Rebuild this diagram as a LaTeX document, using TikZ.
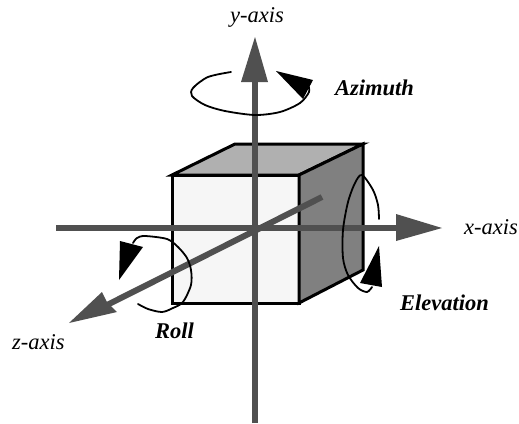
\documentclass[tikz,border=0pt]{standalone}
\usepackage{fontspec}
\setmainfont{Liberation Serif}
\usepackage{xcolor}
\usepackage{tikz}
\usetikzlibrary{arrows.meta,calc}
\definecolor{axisgray}{HTML}{505050}
\definecolor{topgray}{HTML}{B0B0B0}
\definecolor{sidegray}{HTML}{808080}
\definecolor{frontgray}{HTML}{F6F6F6}

\begin{document}
\begin{tikzpicture}[
x=1pt, y=-1pt,
face/.style={draw=black, line width=3pt, line join=miter},
axisline/.style={draw=axisgray, line width=6pt},
axishead/.style={fill=axisgray, draw=none},
turn/.style={draw=black, line width=1.8pt, line join=round, line cap=round},
turnhead/.style={fill=black, draw=none},
axislabel/.style={font=\fontsize{22.5}{26}\selectfont\itshape, inner sep=0pt},
turnlabel/.style={font=\fontsize{22.5}{26}\selectfont\bfseries\itshape, inner sep=0pt}
]
\useasboundingbox (0,0) rectangle (519,423);
% cube
\coordinate (fronttl) at (172,175);
\coordinate (fronttr) at (299,175);
\coordinate (frontbr) at (299,303);
\coordinate (frontbl) at (172,303);
\coordinate (backtl) at (235,144);
\coordinate (backtr) at (363,144);
\coordinate (backbr) at (363,270);
\draw[face, fill=frontgray] (fronttl) -- (fronttr) -- (frontbr) -- (frontbl) -- cycle;
\draw[face, fill=topgray] (fronttl) -- (backtl) -- (backtr) -- (fronttr) -- cycle;
\draw[face, fill=sidegray] (fronttr) -- (backtr) -- (backbr) -- (frontbr) -- cycle;
% axes
\coordinate (xstart) at (56,228);
\coordinate (xbase) at (397,228);
\coordinate (ystart) at (255,423);
\coordinate (ybase) at (255,81);
\coordinate (zstart) at (322,197);
\coordinate (zbase) at (107,305);
\draw[axisline] (xstart) -- (xbase);
\draw[axisline] (ystart) -- (ybase);
\draw[axisline] (zstart) -- (zbase);
\fill[axishead] (442,228) -- (396,214) -- (396,241) -- cycle;
\fill[axishead] (255,37) -- (241,82) -- (268,82) -- cycle;
\fill[axishead] (69,323) -- (117,312) -- (107,302) -- (102,292) -- cycle;
% rotations
\draw[turn] plot[smooth, tension=0.5] coordinates {(231,72) (208,77) (193,88) (192,96) (205,105) (225,111) (255,115) (280,112) (300,103) (309,92) (308,85)};
\fill[turnhead] (276,71) -- (313,80) -- (303,99) -- cycle;
\draw[turn] plot[smooth, tension=0.5] coordinates {(133,243) (137,238) (145,236) (167,239) (178,247) (187,258) (191,270) (191,285) (183,302) (173,308) (162,312) (148,309) (138,304)};
\fill[turnhead] (120,241) -- (143,247) -- (119,280) -- cycle;
\draw[turn] plot[smooth, tension=0.5] coordinates {(379,219) (378,205) (373,190) (362,175) (355,183) (348,202) (343,230) (343,258) (348,275) (358,288) (367,292) (372,287)};
\fill[turnhead] (379,246) -- (382,287) -- (360,283) -- cycle;
% labels
\node[axislabel] (ylabel) at (257,17) {y-axis};
\node[axislabel, anchor=west] (xlabel) at (464,227) {x-axis};
\node[axislabel, anchor=west] (zlabel) at (12,342) {z-axis};
\node[turnlabel, anchor=west] (azimuth) at (335,88) {Azimuth};
\node[turnlabel, anchor=west] (elevation) at (400,303) {Elevation};
\node[turnlabel, anchor=west] (roll) at (155,331) {Roll};
\end{tikzpicture}
\end{document}
